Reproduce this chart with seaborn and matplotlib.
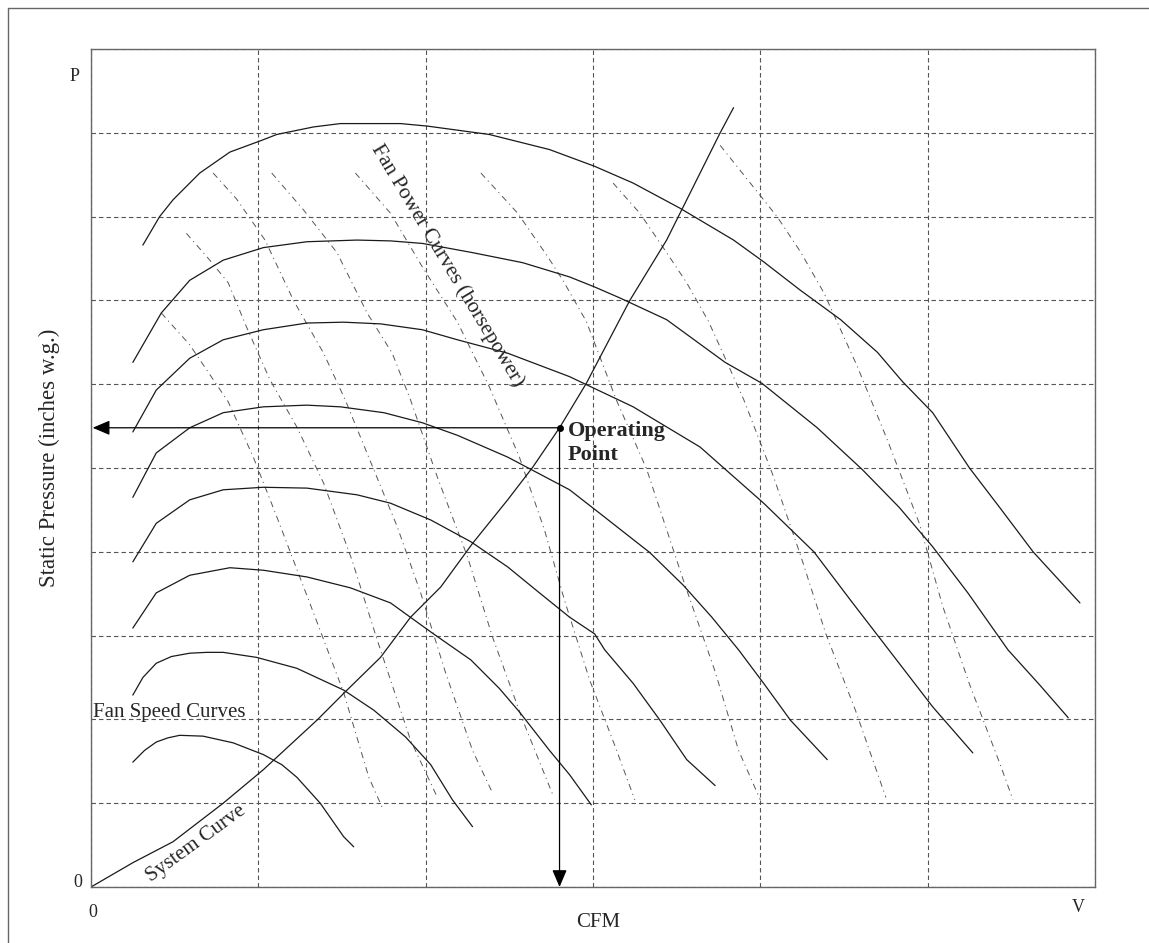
import matplotlib
matplotlib.use("Agg")
import matplotlib.pyplot as plt
import seaborn as sns
import pandas as pd
from matplotlib.lines import Line2D

# Fan speed curves (solid). x: CFM grid units (0-6), y: pressure grid units (0-10)
speed1_x = [0.31, 0.41, 0.49, 0.65, 0.83, 1.02, 1.11, 1.33, 1.49, 1.85, 2.01, 2.38, 2.74, 3.01, 3.24, 3.52, 3.84, 4.02, 4.24, 4.48, 4.70, 4.85, 5.03, 5.25, 5.43, 5.63, 5.91]
speed1_y = [7.66, 8.00, 8.20, 8.52, 8.77, 8.91, 8.98, 9.07, 9.11, 9.11, 9.08, 8.98, 8.80, 8.60, 8.40, 8.10, 7.72, 7.46, 7.12, 6.77, 6.38, 6.03, 5.66, 5.00, 4.53, 4.00, 3.39]
speed2_x = [0.25, 0.42, 0.59, 0.79, 1.03, 1.29, 1.59, 1.79, 1.98, 2.28, 2.58, 2.86, 3.01, 3.16, 3.44, 3.79, 4.01, 4.34, 4.61, 4.83, 5.03, 5.24, 5.48, 5.67, 5.84]
speed2_y = [6.26, 6.85, 7.24, 7.48, 7.63, 7.70, 7.72, 7.71, 7.68, 7.57, 7.45, 7.28, 7.16, 7.03, 6.77, 6.26, 6.01, 5.48, 4.98, 4.53, 4.06, 3.51, 2.83, 2.41, 2.02]
speed3_x = [0.25, 0.39, 0.59, 0.79, 1.03, 1.29, 1.51, 1.73, 1.98, 2.19, 2.49, 2.86, 3.24, 3.64, 4.02, 4.32, 4.54, 4.76, 5.03, 5.27]
speed3_y = [5.43, 5.93, 6.31, 6.53, 6.65, 6.73, 6.74, 6.72, 6.65, 6.53, 6.37, 6.09, 5.73, 5.25, 4.58, 4.00, 3.42, 2.85, 2.15, 1.60]
speed4_x = [0.25, 0.39, 0.59, 0.79, 1.03, 1.29, 1.49, 1.75, 1.98, 2.19, 2.49, 2.86, 3.04, 3.34, 3.54, 3.71, 3.87, 4.02, 4.18, 4.40]
speed4_y = [4.65, 5.18, 5.48, 5.66, 5.73, 5.75, 5.73, 5.66, 5.54, 5.39, 5.13, 4.74, 4.46, 3.99, 3.60, 3.22, 2.83, 2.43, 1.99, 1.52]
speed5_x = [0.25, 0.39, 0.59, 0.79, 1.03, 1.29, 1.59, 1.79, 2.03, 2.27, 2.49, 2.68, 2.86, 3.01, 3.07, 3.24, 3.40, 3.56, 3.73]
speed5_y = [3.88, 4.34, 4.62, 4.74, 4.77, 4.76, 4.68, 4.58, 4.38, 4.12, 3.82, 3.51, 3.22, 3.02, 2.83, 2.43, 1.99, 1.52, 1.21]
speed6_x = [0.25, 0.39, 0.59, 0.83, 1.03, 1.29, 1.55, 1.79, 2.04, 2.27, 2.44, 2.56, 2.74, 2.86, 2.99]
speed6_y = [3.09, 3.51, 3.72, 3.81, 3.78, 3.70, 3.57, 3.39, 3.03, 2.71, 2.37, 2.09, 1.63, 1.34, 0.98]
speed7_x = [0.25, 0.31, 0.39, 0.48, 0.59, 0.69, 0.79, 0.99, 1.23, 1.51, 1.69, 1.88, 2.03, 2.16, 2.28]
speed7_y = [2.29, 2.50, 2.67, 2.75, 2.79, 2.80, 2.80, 2.74, 2.61, 2.35, 2.11, 1.79, 1.46, 1.04, 0.72]
speed8_x = [0.25, 0.32, 0.39, 0.46, 0.53, 0.67, 0.85, 1.03, 1.14, 1.23, 1.37, 1.51, 1.57]
speed8_y = [1.49, 1.63, 1.73, 1.78, 1.81, 1.80, 1.72, 1.58, 1.46, 1.31, 1.00, 0.60, 0.48]

# Fan power curves (dash-dot)
power1_x = [0.42, 0.59, 0.82, 0.97, 1.11, 1.33, 1.51, 1.66, 1.74]
power1_y = [6.85, 6.47, 5.79, 5.13, 4.42, 3.27, 2.32, 1.31, 0.95]
power2_x = [0.57, 0.71, 0.82, 0.93, 1.07, 1.23, 1.39, 1.56, 1.71, 1.91, 2.07]
power2_y = [7.80, 7.48, 7.21, 6.68, 6.05, 5.49, 4.82, 3.90, 2.95, 1.75, 1.07]
power3_x = [0.73, 0.87, 1.04, 1.21, 1.39, 1.52, 1.69, 1.83, 1.97, 2.12, 2.28, 2.40]
power3_y = [8.52, 8.21, 7.72, 7.00, 6.37, 5.81, 4.98, 4.30, 3.51, 2.55, 1.63, 1.12]
power4_x = [1.08, 1.27, 1.47, 1.65, 1.80, 1.91, 2.07, 2.25, 2.40, 2.58, 2.76]
power4_y = [8.52, 8.08, 7.57, 6.85, 6.37, 5.81, 4.89, 3.94, 2.98, 1.99, 1.10]
power5_x = [1.58, 1.79, 1.98, 2.19, 2.38, 2.56, 2.71, 2.83, 2.98, 3.13, 3.25]
power5_y = [8.52, 8.04, 7.40, 6.74, 5.97, 5.13, 4.26, 3.42, 2.47, 1.69, 1.04]
power6_x = [2.33, 2.55, 2.73, 2.82, 2.96, 3.14, 3.32, 3.54, 3.73, 3.87, 4.00]
power6_y = [8.52, 8.04, 7.52, 7.24, 6.75, 5.81, 4.99, 3.66, 2.57, 1.63, 1.04]
power7_x = [3.12, 3.28, 3.44, 3.56, 3.69, 3.79, 3.90, 4.08, 4.24, 4.39, 4.57, 4.75]
power7_y = [8.40, 8.04, 7.57, 7.21, 6.75, 6.31, 5.82, 4.89, 3.96, 3.03, 2.10, 1.07]
power8_x = [3.76, 3.96, 4.10, 4.24, 4.38, 4.58, 4.76, 4.95, 5.09, 5.25, 5.43, 5.51]
power8_y = [8.85, 8.35, 8.00, 7.58, 7.09, 6.21, 5.33, 4.34, 3.35, 2.42, 1.48, 1.04]

# System curve and operating point
system_x = [0.00, 0.25, 0.49, 0.79, 1.03, 1.35, 1.52, 1.73, 1.91, 2.09, 2.28, 2.49, 2.64, 2.80, 2.96, 3.22, 3.44, 3.64, 3.76, 3.84]
system_y = [0.00, 0.29, 0.54, 1.00, 1.40, 1.99, 2.33, 2.74, 3.22, 3.58, 4.10, 4.62, 5.01, 5.48, 6.01, 7.00, 7.72, 8.52, 9.00, 9.30]
op_x, op_y = 2.80, 5.48

speed_curves = [(speed1_x, speed1_y), (speed2_x, speed2_y), (speed3_x, speed3_y), (speed4_x, speed4_y),
                (speed5_x, speed5_y), (speed6_x, speed6_y), (speed7_x, speed7_y), (speed8_x, speed8_y)]
power_curves = [(power1_x, power1_y), (power2_x, power2_y), (power3_x, power3_y), (power4_x, power4_y),
                (power5_x, power5_y), (power6_x, power6_y), (power7_x, power7_y), (power8_x, power8_y)]

sns.set_theme(style="white")
plt.rcParams['font.family'] = ['Liberation Serif', 'DejaVu Serif']
plt.rcParams['lines.scale_dashes'] = False

W, H = 1149, 943
fig = plt.figure(figsize=(W / 100, H / 100), dpi=100)
ax = fig.add_axes([91 / W, 1 - 887 / H, (1095 - 91) / W, (887 - 49) / H])

# grid
ax.set_xlim(0, 6)
ax.set_ylim(0, 10)
ax.set_xticks(range(7))
ax.set_yticks(range(11))
ax.grid(True, color='#555555', lw=0.8, linestyle=(0, (3.2, 2.2)))
ax.tick_params(left=False, bottom=False, labelleft=False, labelbottom=False)
for s in ax.spines.values():
    s.set_color('#666666')
    s.set_linewidth(1.0)

# power curves
for px, py in power_curves:
    df = pd.DataFrame({'x': px, 'y': py})
    sns.lineplot(data=df, x='x', y='y', sort=False, estimator=None, ax=ax,
                 color='#555555', lw=0.7, linestyle=(0, (4.5, 3.0, 0.8, 3.0)))

# fan speed curves
for sx, sy in speed_curves:
    df = pd.DataFrame({'x': sx, 'y': sy})
    sns.lineplot(data=df, x='x', y='y', sort=False, estimator=None, ax=ax,
                 color='#1a1a1a', lw=0.9, solid_joinstyle='round')

# system curve
sys_df = pd.DataFrame({'x': system_x, 'y': system_y})
sns.lineplot(data=sys_df, x='x', y='y', sort=False, estimator=None, ax=ax,
             color='#1a1a1a', lw=0.9, solid_joinstyle='round')

# operating point arrows
arrow = dict(arrowstyle='-|>,head_length=0.75,head_width=0.32', color='black', lw=0.9,
             shrinkA=0, shrinkB=0, mutation_scale=14)
ax.annotate('', xy=(0.01, op_y), xytext=(op_x, op_y), arrowprops=arrow)
ax.annotate('', xy=(op_x, 0.0), xytext=(op_x, op_y), arrowprops=arrow)
ax.plot([op_x], [op_y], 'o', color='black', ms=4)

ax.set_xlabel('')
ax.set_ylabel('')

# labels
ax.text(-0.10, 9.67, 'P', fontsize=13, ha='center', va='center')
ax.text(-0.08, 0.05, '0', fontsize=13, ha='center', va='center')
ax.text(0.01, -0.30, '0', fontsize=13, ha='center', va='center')
ax.text(5.90, -0.25, 'V', fontsize=13, ha='center', va='center')
ax.text(3.03, -0.42, 'CFM', fontsize=15, ha='center', va='center')
ax.text(-0.25, 5.12, 'Static Pressure (inches w.g.)', fontsize=16.5, rotation=90,
        ha='center', va='center')
ax.text(0.012, 2.08, 'Fan Speed Curves', fontsize=15, ha='left', va='center')
ax.text(2.85, 5.30, 'Operating\nPoint', fontsize=16, fontweight='bold', ha='left', va='center',
        linespacing=1.25)
ax.text(2.13, 7.42, 'Fan Power Curves (horsepower)', fontsize=15.5, rotation=-59,
        rotation_mode='anchor', ha='center', va='center')
ax.text(0.63, 0.52, 'System Curve', fontsize=15, rotation=36,
        rotation_mode='anchor', ha='center', va='center')

# outer frame of the scanned figure
fig.add_artist(Line2D([8 / W, 1], [1 - 8 / H, 1 - 8 / H], transform=fig.transFigure, color='#666666', lw=1.0))
fig.add_artist(Line2D([8 / W, 8 / W], [0, 1 - 8 / H], transform=fig.transFigure, color='#666666', lw=1.0))

fig.savefig('out.png', dpi=100)
